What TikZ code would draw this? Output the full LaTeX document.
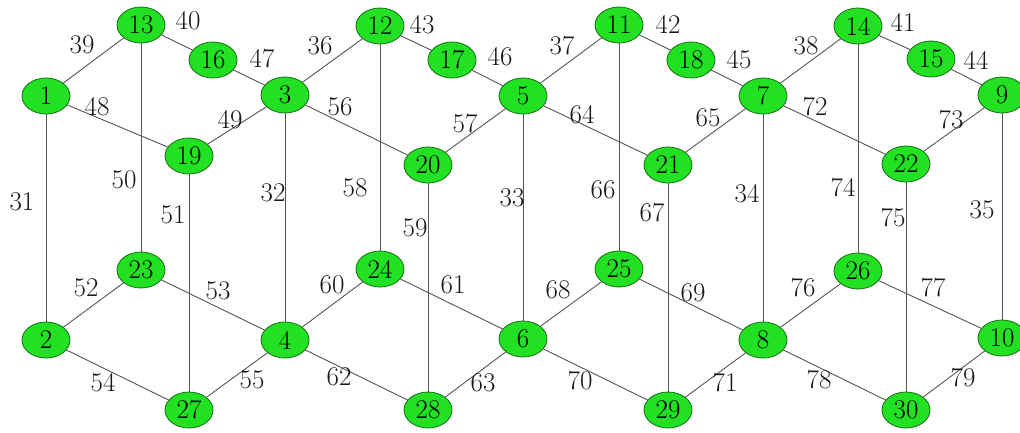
\documentclass[tikz,border=0pt]{standalone}
\usetikzlibrary{shapes.geometric}
\definecolor{nodegreen}{RGB}{34,224,34}
\definecolor{nodeedge}{RGB}{20,110,20}
\definecolor{edgegray}{RGB}{85,85,85}
\begin{document}
\begin{tikzpicture}[x=1pt,y=-1pt,
  vert/.style={ellipse,draw=nodeedge,line width=0.8pt,fill=nodegreen,minimum width=48pt,minimum height=36pt,inner sep=0pt,font=\fontsize{27}{31}\selectfont},
  elab/.style={inner sep=0pt,font=\fontsize{27}{31}\selectfont,text=black!90},
  conn/.style={draw=edgegray,line width=0.9pt}]
\useasboundingbox[fill=white] (0,0) rectangle (1020,433);
% vertices
\foreach \n/\x/\y in {1/46/96, 2/46/340, 3/285/95, 4/285/340, 5/523/96, 6/523/339,
  7/763/96, 8/763/340, 9/1002/95, 10/1002/338, 11/619/25, 12/380/26, 13/141/25,
  14/858/26, 15/931/59, 16/213/60, 17/452/60, 18/691/60, 19/189/156, 20/428/165,
  21/668/165, 22/906/164, 23/141/270, 24/380/269, 25/619/269, 26/858/271,
  27/189/410, 28/428/410, 29/668/410, 30/906/410}
  \node[vert] (n\n) at (\x,\y) {\n};
% edges with labels
\foreach \a/\b/\l/\x/\y in {1/2/31/22/202, 3/4/32/273/193, 5/6/33/512/198, 7/8/34/747/194, 9/10/35/982/210,
  3/12/36/320/46, 5/11/37/562/46, 7/14/38/806/46, 1/13/39/82/45, 13/16/40/188/21,
  14/15/41/903/22, 11/18/42/668/24, 12/17/43/422/25, 15/9/44/976/60, 18/7/45/739/60,
  17/5/46/500/57, 16/3/47/262/59, 1/19/48/97/107, 19/3/49/230/120, 13/23/50/124/180,
  19/27/51/173/215, 2/23/52/86/288, 23/4/53/218/291, 2/27/54/103/383, 27/4/55/252/380,
  3/20/56/340/107, 20/5/57/465/124, 12/24/58/355/188, 20/28/59/415/228, 4/24/60/332/285,
  24/6/61/453/285, 4/28/62/339/377, 28/6/63/483/383, 5/21/64/582/115, 21/7/65/708/118,
  11/25/66/603/190, 21/29/67/652/213, 6/25/68/558/290, 25/8/69/693/293, 6/29/70/580/381,
  29/8/71/725/383, 7/22/72/815/107, 22/9/73/951/120, 14/26/74/843/188, 22/30/75/893/218,
  8/26/76/803/288, 26/10/77/933/288, 8/30/78/819/380, 30/10/79/963/378}
{
  \draw[conn] (n\a) -- (n\b);
  \node[elab] (l\l) at (\x,\y) {\l};
}
\end{tikzpicture}
\end{document}
